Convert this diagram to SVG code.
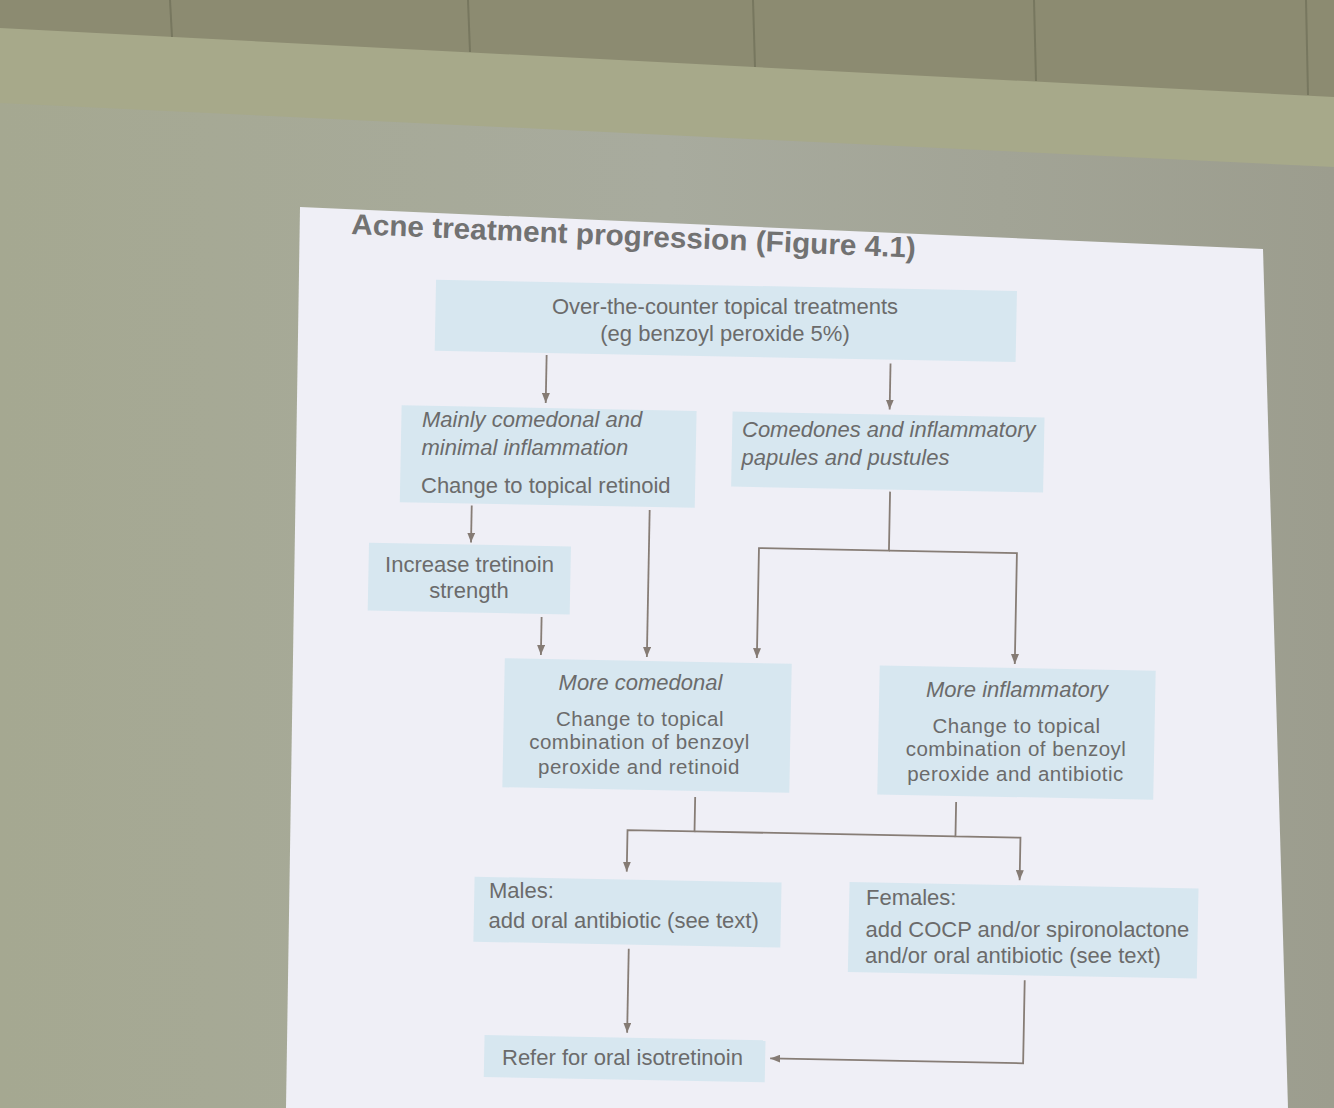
<svg xmlns="http://www.w3.org/2000/svg" width="1334" height="1108" viewBox="0 0 1334 1108">
<defs>
<linearGradient id="wall" x1="0" x2="1" y1="0" y2="0">
<stop offset="0" stop-color="#a5a891"/>
<stop offset="0.5" stop-color="#a8ab9e"/>
<stop offset="1" stop-color="#9c9d8e"/>
</linearGradient>
<marker id="ah" viewBox="0 0 10 8" refX="10" refY="4" markerWidth="10" markerHeight="8" markerUnits="userSpaceOnUse" orient="auto">
<path d="M0,0 L10,4 L0,8 z" fill="#857b74"/>
</marker>
<style>
.box{fill:#d7e7f0}
.t{font-family:"Liberation Sans",Arial,sans-serif;font-size:22px;fill:#6b6b6b}
.s{font-size:20.5px;letter-spacing:0.5px}
.i{font-style:italic}
.c{text-anchor:middle}
.ln{fill:none;stroke:#877d76;stroke-width:1.8}
.tile{stroke:#77775f;stroke-width:2}
</style>
</defs>

<g id="background">
<rect width="1334" height="1108" fill="url(#wall)"/>
<polygon points="0,0 1334,0 1334,167 0,103" fill="#a7a98a"/>
<polygon points="0,0 1334,0 1334,97 0,28" fill="#8c8b71"/>
<line class="tile" x1="170" y1="0" x2="172" y2="37"/>
<line class="tile" x1="468" y1="0" x2="470" y2="52"/>
<line class="tile" x1="753" y1="0" x2="755" y2="67"/>
<line class="tile" x1="1034" y1="0" x2="1036" y2="81"/>
<line class="tile" x1="1306" y1="0" x2="1308" y2="95"/>
<polygon points="300,207 1263,249 1288,1108 286,1108" fill="#efeff6"/>
</g>

<text id="title" class="t" x="351" y="234" transform="rotate(2.4 351 234)" style="font-size:29px;font-weight:bold;fill:#727272" textLength="565" lengthAdjust="spacingAndGlyphs">Acne treatment progression (Figure 4.1)</text>

<g id="connectors" transform="rotate(1.1 700 650)">
<path class="ln" d="M541,358 V406" marker-end="url(#ah)"/>
<path class="ln" d="M885,360 V406" marker-end="url(#ah)"/>
<path class="ln" d="M469,510 V547" marker-end="url(#ah)"/>
<path class="ln" d="M647,511 V658" marker-end="url(#ah)"/>
<path class="ln" d="M541,620 V658" marker-end="url(#ah)"/>
<path class="ln" d="M887,488 V547 H757 V657" marker-end="url(#ah)"/>
<path class="ln" d="M887,547 H1015 V658" marker-end="url(#ah)"/>
<path class="ln" d="M698,797 V831.5 H631 V873" marker-end="url(#ah)"/>
<path class="ln" d="M959,797 V831.5 H1024 V874" marker-end="url(#ah)"/>
<path class="ln" d="M698,831.5 H959"/>
<path class="ln" d="M634.5,950 V1034" marker-end="url(#ah)"/>
<path class="ln" d="M1031,974 V1057 H778" marker-end="url(#ah)"/>
</g>

<g id="n1">
<rect class="box" x="429" y="285" width="581" height="71" transform="rotate(1.1 700 650)"/>
<text class="t c" x="725" y="314">Over-the-counter topical treatments</text>
<text class="t c" x="725" y="341">(eg benzoyl peroxide 5%)</text>
</g>

<g id="n2">
<rect class="box" x="397" y="411" width="295" height="97" transform="rotate(1.1 700 650)"/>
<text class="t i" x="422" y="427">Mainly comedonal and</text>
<text class="t i" x="421.5" y="455">minimal inflammation</text>
<text class="t" x="421" y="493">Change to topical retinoid</text>
</g>

<g id="n3">
<rect class="box" x="728" y="411" width="312" height="75" transform="rotate(1.1 700 650)"/>
<text class="t i" x="742" y="437">Comedones and inflammatory</text>
<text class="t i" x="741.5" y="465">papules and pustules</text>
</g>

<g id="n4">
<rect class="box" x="367" y="549" width="202" height="68" transform="rotate(1.1 700 650)"/>
<text class="t c" x="469.5" y="571.5">Increase tretinoin</text>
<text class="t c" x="469" y="597.5">strength</text>
</g>

<g id="n5">
<rect class="box" x="505" y="662" width="287" height="129" transform="rotate(1.1 700 650)"/>
<text class="t c i" x="640.5" y="690">More comedonal</text>
<text class="t c s" x="640" y="726">Change to topical</text>
<text class="t c s" x="639.5" y="749">combination of benzoyl</text>
<text class="t c s" x="639" y="774">peroxide and retinoid</text>
</g>

<g id="n6">
<rect class="box" x="880" y="662" width="276" height="129" transform="rotate(1.1 700 650)"/>
<text class="t c i" x="1017" y="697">More inflammatory</text>
<text class="t c s" x="1016.5" y="733">Change to topical</text>
<text class="t c s" x="1016" y="756">combination of benzoyl</text>
<text class="t c s" x="1015.5" y="781">peroxide and antibiotic</text>
</g>

<g id="n7">
<rect class="box" x="479" y="881" width="307" height="65" transform="rotate(1.1 700 650)"/>
<text class="t" x="489" y="898">Males:</text>
<text class="t" x="488.5" y="928">add oral antibiotic (see text)</text>
</g>

<g id="n8">
<rect class="box" x="854" y="879" width="349" height="90" transform="rotate(1.1 700 650)"/>
<text class="t" x="866" y="905">Females:</text>
<text class="t" x="865.5" y="937">add COCP and/or spironolactone</text>
<text class="t" x="865" y="963">and/or oral antibiotic (see text)</text>
</g>

<g id="n9">
<rect class="box" x="492" y="1039" width="281" height="42" transform="rotate(1.1 700 650)"/>
<text class="t" x="502" y="1065">Refer for oral isotretinoin</text>
</g>
</svg>
